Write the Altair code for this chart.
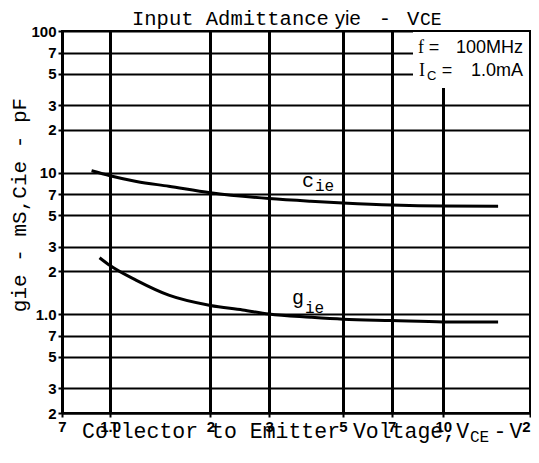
import altair as alt
import pandas as pd

# ---- data ----
cie_v = [0.88, 1.0, 1.2, 1.5, 2.0, 3.0, 4.0, 5.0, 7.0, 10.0, 14.6]
cie_y = [10.3, 9.5, 8.65, 8.0, 7.2, 6.55, 6.27, 6.1, 5.9, 5.8, 5.78]
gie_v = [0.93, 1.0, 1.2, 1.5, 2.0, 2.5, 3.0, 4.0, 5.0, 7.0, 10.0, 14.6]
gie_y = [2.5, 2.2, 1.73, 1.36, 1.15, 1.07, 1.0, 0.95, 0.92, 0.9, 0.88, 0.88]

x_domain = [0.7175, 18.2]
y_domain = [0.2, 100]
x_ticks = [0.7175, 1, 2, 3, 5, 7, 10, 18.2]
y_ticks = [0.2, 0.3, 0.5, 0.7, 1, 2, 3, 5, 7, 10, 20, 30, 50, 70, 100]

title_main = "Input Admittance"
title_y = "yie"
title_v = "V"
title_ce = "CE"
xtitle_main = "Collector to Emitter Voltage,V"
xtitle_sub = "CE"
ytitle = "gie - mS,Cie - pF"

cie_df = pd.DataFrame({"v": cie_v, "y": cie_y})
gie_df = pd.DataFrame({"v": gie_v, "y": gie_y})

W, H = 468, 382

x_lab = ("datum.value < 0.8 ? '7' : datum.value == 1 ? '1.0' : "
         "datum.value > 15 ? '2' : '' + round(datum.value)")
y_lab = ("datum.value == 1 ? '1.0' : datum.value == 10 ? '10' : datum.value == 100 ? '100' : "
         "datum.value < 1 ? '' + round(datum.value * 10) : datum.value < 10 ? '' + round(datum.value) : "
         "'' + round(datum.value / 10)")

xenc = alt.X("v:Q",
             scale=alt.Scale(type="log", domain=x_domain, nice=False),
             axis=alt.Axis(values=x_ticks, labelExpr=x_lab, title=None, grid=True,
                           gridColor="black", gridWidth=3,
                           labelAlign={"condition": {"test": "datum.value > 15", "value": "right"},
                                       "value": "center"},
                           labelFlush=False, labelOverlap=False))
yenc = alt.Y("y:Q",
             scale=alt.Scale(type="log", domain=y_domain, nice=False),
             axis=alt.Axis(values=y_ticks, labelExpr=y_lab, title=None, grid=True,
                           labelOverlap=False, labelFlush=False))

line_c = alt.Chart(cie_df).mark_line(color="black", strokeWidth=3, interpolate="monotone",
                                     clip=True).encode(x=xenc, y=yenc)
line_g = alt.Chart(gie_df).mark_line(color="black", strokeWidth=3, interpolate="monotone",
                                     clip=True).encode(x="v:Q", y="y:Q")

one = pd.DataFrame({"k": [0]})


def txt(text, x, y, size, font="Liberation Mono", align="left", baseline="alphabetic",
        angle=0, weight="normal"):
    return alt.Chart(one).mark_text(text=text, align=align, baseline=baseline, fontSize=size,
                                    font=font, angle=angle, fontWeight=weight,
                                    color="black").encode(x=alt.value(x), y=alt.value(y))


box = alt.Chart(one).mark_rect(color="white").encode(
    x=alt.value(351), x2=alt.value(467), y=alt.value(1), y2=alt.value(57))

texts = [
    # title
    txt(title_main, 70, -6, 20.5),
    txt(title_y, 273, -6, 20, font="Liberation Sans"),
    txt("-", 323, -6, 20.5, align="center"),
    txt(title_v, 345, -6, 20.5),
    txt(title_ce, 358, -6, 18),
    # x title
    txt(xtitle_main, 20, 407, 21.5),
    txt(xtitle_sub, 408, 411, 16),
    txt("-", 438, 407, 21.5, align="center"),
    txt("V", 454, 407, 21.5, align="center"),
    # y title
    txt(ytitle, -42, 174, 21, align="center", baseline="middle", angle=270),
    # conditions
    txt("f", 356, 22, 18, font="Liberation Serif"),
    txt("=", 372, 22, 18, font="Liberation Sans", align="center"),
    txt("100MHz", 461, 22, 18, font="Liberation Sans", align="right"),
    txt("I", 357, 45, 18, font="Liberation Serif"),
    txt("C", 365, 49, 13, font="Liberation Sans"),
    txt("=", 385, 45, 18, font="Liberation Sans", align="center"),
    txt("1.0mA", 461, 45, 18, font="Liberation Sans", align="right"),
    # curve labels
    txt("c", 240, 156, 20),
    txt("ie", 253, 160, 16),
    txt("g", 230, 273, 20),
    txt("ie", 243, 282, 16),
]

chart = alt.layer(line_c, line_g, box, *texts).properties(
    width=W, height=H,
    autosize=alt.AutoSizeParams(type="none"),
    padding={"left": 54, "top": 23, "right": 1, "bottom": 33},
).configure_view(
    stroke="black", strokeWidth=2
).configure_axis(
    gridColor="black", gridWidth=2.2, gridOpacity=1,
    domainColor="black", domainWidth=2,
    tickColor="black", tickSize=4, tickWidth=2,
    labelFont="Liberation Sans", labelFontWeight="bold", labelFontSize=15,
    labelColor="black",
).configure_axisX(labelPadding=2).configure_axisY(labelPadding=2)

chart.save("out.html", embed_options={"renderer": "svg", "actions": False})
